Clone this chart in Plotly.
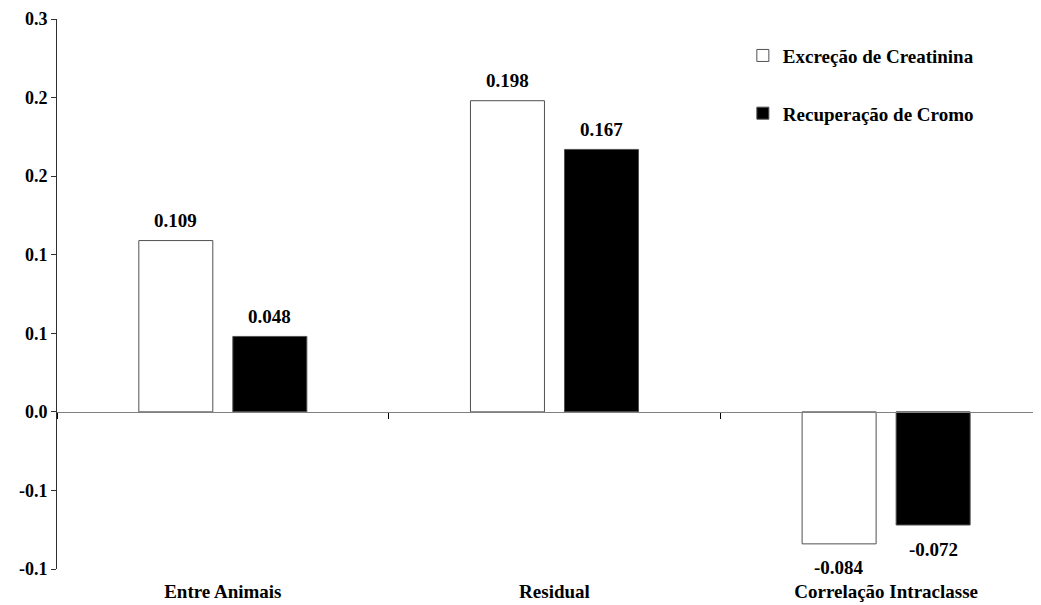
import plotly.graph_objects as go

categories = ["Entre Animais", "Residual", "Correlação Intraclasse"]
series_names = ["Excreção de Creatinina", "Recuperação de Cromo"]
creatinina = [0.109, 0.198, -0.084]
cromo = [0.048, 0.167, -0.072]
ytick_vals = [0.25, 0.20, 0.15, 0.10, 0.05, 0.0, -0.05, -0.10]
ytick_text = ["0.3", "0.2", "0.2", "0.1", "0.1", "0.0", "-0.1", "-0.1"]

FONT = "Liberation Serif, Times New Roman, serif"
# page body has an 8px default margin, so the figure is drawn 8px in
W, H = 1033, 597
ML, MR, MT, MB = 49, 0, 11, 36
YMIN, YMAX = -0.10, 0.25
XRANGE = [-0.5, 2.467]

plot_w = W - ML - MR
cat_px = plot_w / (XRANGE[1] - XRANGE[0])
bargap = 0.433
group_px = cat_px * (1 - bargap)
slot_px = group_px / 2

fig = go.Figure()
series = [(series_names[0], creatinina, "white"), (series_names[1], cromo, "black")]
for i, (name, vals, col) in enumerate(series):
    fig.add_trace(go.Bar(
        x=categories, y=vals, name=f"<b>{name}</b>",
        marker=dict(color=col, line=dict(color="#505050", width=1)),
        legendgroup=f"g{i}",
    ))

# helper (draws nothing) so the zero-line category axis gets rendered
fig.add_trace(go.Scatter(
    x=categories, y=creatinina, xaxis="x2", mode="none",
    showlegend=False, hoverinfo="skip",
))

# value labels
annotations = []
for i, (name, vals, col) in enumerate(series):
    xs = (i - 0.5) * slot_px
    for c, v in zip(categories, vals):
        annotations.append(dict(
            x=c, y=v, xref="x", yref="y", text=f"<b>{v:.3f}</b>",
            showarrow=False, xshift=xs, yshift=20 if v >= 0 else -24,
            yanchor="middle", xanchor="center",
            font=dict(family=FONT, size=19, color="black"),
        ))

fig.update_layout(
    width=W, height=H,
    margin=dict(l=ML, r=MR, t=MT, b=MB, pad=0),
    paper_bgcolor="white", plot_bgcolor="white",
    barmode="group", bargap=bargap, bargroupgap=0.213,
    font=dict(family=FONT, size=19, color="black"),
    showlegend=True,
    legend=dict(
        x=0.697, y=0.968, xanchor="left", yanchor="top",
        traceorder="grouped", tracegroupgap=30,
        font=dict(family=FONT, size=19, color="black"),
        bgcolor="rgba(0,0,0,0)",
    ),
    annotations=annotations,
    xaxis=dict(
        type="category", range=XRANGE, showline=False, ticks="",
        showgrid=False, zeroline=False,
        tickvals=categories, ticktext=[f"<b>{c}</b>" for c in categories],
        tickfont=dict(family=FONT, size=19, color="black"),
        ticklabelstandoff=9,
    ),
    xaxis2=dict(
        type="category", overlaying="x", anchor="free",
        position=(0 - YMIN) / (YMAX - YMIN),
        range=XRANGE, showline=True, linecolor="#808080", linewidth=1,
        ticks="outside", ticklen=6, tickcolor="black", tickwidth=1,
        tickson="boundaries", showticklabels=False,
        showgrid=False, zeroline=False,
    ),
    yaxis=dict(
        range=[YMIN, YMAX], tickvals=ytick_vals,
        ticktext=[f"<b>{t}</b>" for t in ytick_text],
        showline=True, linecolor="#303030", linewidth=1,
        ticks="outside", ticklen=5, tickcolor="#303030",
        showgrid=False, zeroline=False,
        tickfont=dict(family=FONT, size=18, color="black"),
    ),
)

fig.write_html("out.html")
